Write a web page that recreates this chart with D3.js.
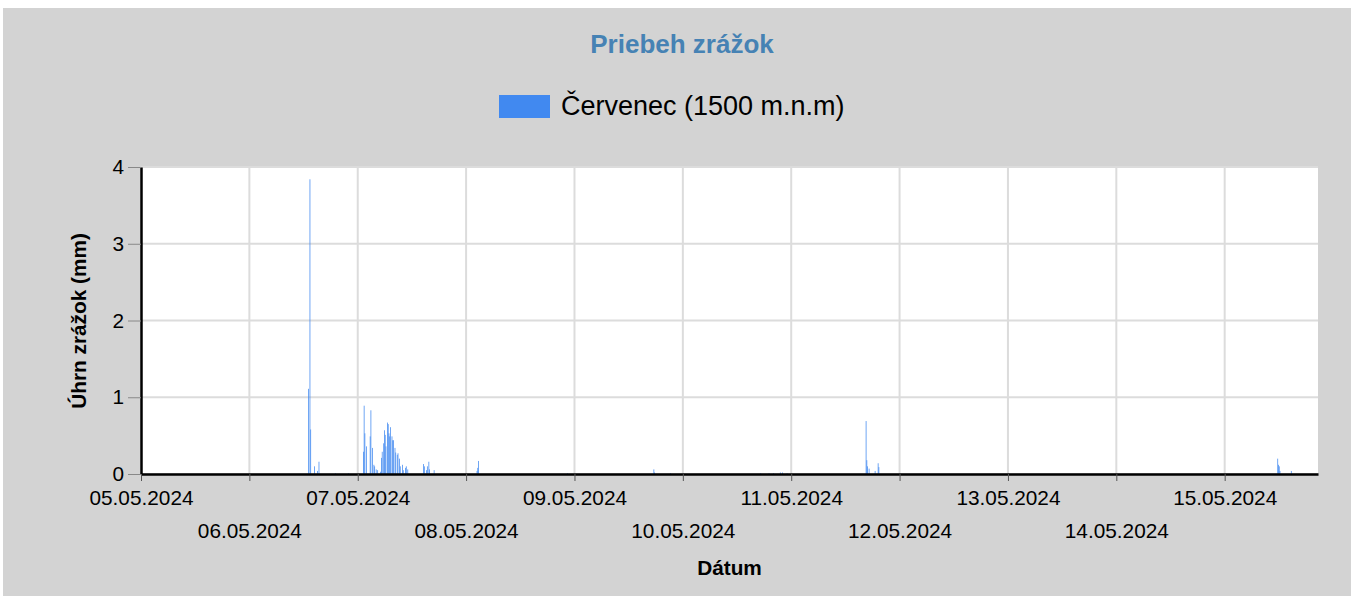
<!DOCTYPE html>
<html>
<head>
<meta charset="utf-8">
<script src="https://cdn.jsdelivr.net/npm/d3@7"></script>
<style>
  html, body { margin: 0; padding: 0; background: #fff; }
  svg { display: block; font-family: "Liberation Sans", Arial, sans-serif; }
</style>
</head>
<body>
<svg id="chart" width="1351" height="596"></svg>
<script>
// ---- data ----
const chartTitle = "Priebeh zrážok";
const seriesName = "Červenec (1500 m.n.m)";
const yTitle = "Úhrn zrážok (mm)";
const xTitle = "Dátum";
const domainStart = "2024-05-05T00:00";
const domainEnd = "2024-05-15T20:40";
const stepMinutes = 10;
const yTicks = [0, 1, 2, 3, 4];
const times = [
  "2024-05-06T13:00","2024-05-06T13:20","2024-05-06T13:30","2024-05-06T14:20","2024-05-06T15:00","2024-05-06T15:20","2024-05-06T19:00","2024-05-06T21:50",
  "2024-05-07T01:10","2024-05-07T01:20","2024-05-07T01:30","2024-05-07T01:50","2024-05-07T02:40","2024-05-07T02:50","2024-05-07T03:10","2024-05-07T03:30",
  "2024-05-07T03:40","2024-05-07T04:00","2024-05-07T04:20","2024-05-07T05:00","2024-05-07T05:10","2024-05-07T05:20","2024-05-07T05:40",
  "2024-05-07T05:50","2024-05-07T06:00","2024-05-07T06:10","2024-05-07T06:30","2024-05-07T06:40","2024-05-07T06:50","2024-05-07T07:00",
  "2024-05-07T07:10","2024-05-07T07:30","2024-05-07T07:40","2024-05-07T07:50","2024-05-07T08:10","2024-05-07T08:20",
  "2024-05-07T08:40","2024-05-07T08:50","2024-05-07T09:10","2024-05-07T09:20","2024-05-07T09:50",
  "2024-05-07T10:00","2024-05-07T10:30","2024-05-07T10:40","2024-05-07T11:00","2024-05-07T14:30","2024-05-07T14:40","2024-05-07T15:10","2024-05-07T15:20",
  "2024-05-07T15:40","2024-05-07T15:50","2024-05-07T16:50",
  "2024-05-08T02:20","2024-05-08T02:30","2024-05-08T02:40","2024-05-08T22:20",
  "2024-05-09T17:30","2024-05-09T17:40","2024-05-09T21:10",
  "2024-05-10T17:10","2024-05-10T19:00","2024-05-10T20:00","2024-05-10T21:30","2024-05-10T22:00","2024-05-10T23:00",
  "2024-05-11T16:30","2024-05-11T16:40","2024-05-11T16:50","2024-05-11T17:10","2024-05-11T18:30","2024-05-11T19:10","2024-05-11T19:20",
  "2024-05-15T11:40","2024-05-15T11:50","2024-05-15T12:00","2024-05-15T12:10","2024-05-15T14:40"
];
const values = [
  1.11,3.84,0.58,0.10,0.04,0.16,0.01,0.01,
  0.29,0.89,0.53,0.36,0.49,0.83,0.34,0.12,
  0.10,0.06,0.05,0.03,0.21,0.29,0.40,
  0.57,0.51,0.36,0.67,0.65,0.53,0.49,
  0.61,0.49,0.44,0.44,0.34,0.28,
  0.25,0.27,0.20,0.10,0.12,
  0.05,0.08,0.10,0.06,0.13,0.10,0.05,0.10,
  0.16,0.06,0.05,
  0.04,0.08,0.17,0.01,
  0.06,0.02,0.01,
  0.01,0.01,0.01,0.02,0.02,0.01,
  0.69,0.18,0.10,0.07,0.04,0.14,0.09,
  0.20,0.12,0.10,0.04,0.04
];

// ---- drawing ----
const svg = d3.select("#chart");
const W = 1351, H = 596;
const plot = { left: 141, right: 1318, top: 167, bottom: 474 };
const parse = d3.timeParse("%Y-%m-%dT%H:%M");
const data = times.map((t, i) => ({ t: parse(t), v: values[i] }));

svg.append("rect").attr("x", 3).attr("y", 8).attr("width", W - 3).attr("height", H - 8).attr("fill", "#d3d3d3");

const x = d3.scaleTime().domain([parse(domainStart), parse(domainEnd)]).range([plot.left, plot.right]);
const y = d3.scaleLinear().domain([0, 4]).range([plot.bottom, plot.top]);

svg.append("rect").attr("x", plot.left).attr("y", plot.top)
  .attr("width", plot.right - plot.left).attr("height", plot.bottom - plot.top).attr("fill", "#fff");

const dayTicks = d3.timeDay.range(parse(domainStart), d3.timeDay.offset(parse(domainEnd), 1)).filter(d => d <= parse(domainEnd));

// grid
const grid = svg.append("g");
grid.selectAll("line.v").data(dayTicks).join("line")
  .attr("x1", d => x(d)).attr("x2", d => x(d)).attr("y1", plot.top).attr("y2", plot.bottom)
  .attr("stroke", "#dcdcdc").attr("stroke-width", 2);
grid.selectAll("line.h").data(yTicks).join("line")
  .attr("x1", plot.left).attr("x2", plot.right).attr("y1", d => y(d)).attr("y2", d => y(d))
  .attr("stroke", "#dcdcdc").attr("stroke-width", 2);

// bars
const bw = x(d3.timeMinute.offset(parse(domainStart), stepMinutes)) - x(parse(domainStart));
svg.append("g").selectAll("rect").data(data).join("rect")
  .attr("x", d => x(d.t)).attr("width", bw)
  .attr("y", d => y(d.v)).attr("height", d => y(0) - y(d.v))
  .attr("fill", "#4189f0");

// y axis
const yAxis = svg.append("g").attr("transform", `translate(${plot.left},0)`)
  .call(d3.axisLeft(y).tickValues(yTicks).tickFormat(d3.format("d")).tickSize(13).tickSizeOuter(0));
yAxis.select(".domain").attr("stroke", "#000").attr("stroke-width", 2.5);
yAxis.selectAll(".tick line").attr("stroke", "#888");
yAxis.selectAll(".tick text").attr("font-size", 20.8).attr("fill", "#000").attr("x", -17).attr("font-family", "Liberation Sans, Arial, sans-serif");

// x axis
const fmt = d3.timeFormat("%d.%m.%Y");
const xAxis = svg.append("g").attr("transform", `translate(0,${plot.bottom})`)
  .call(d3.axisBottom(x).tickValues(dayTicks).tickFormat(fmt).tickSize(7).tickSizeOuter(0));
xAxis.select(".domain").attr("stroke", "#000").attr("stroke-width", 2.5);
xAxis.selectAll(".tick line").attr("stroke", "#555");
xAxis.selectAll(".tick text").attr("font-size", 20.8).attr("fill", "#000")
  .attr("font-family", "Liberation Sans, Arial, sans-serif")
  .attr("dy", null).attr("y", (d, i) => i % 2 === 0 ? 31 : 64);

// titles
svg.append("text").attr("x", 682).attr("y", 53).attr("text-anchor", "middle")
  .attr("font-size", 26).attr("font-weight", "bold").attr("fill", "#4682b4").text(chartTitle);

svg.append("rect").attr("x", 499).attr("y", 95).attr("width", 51).attr("height", 23).attr("fill", "#4189f0");
svg.append("text").attr("x", 561).attr("y", 115).attr("font-size", 27).attr("fill", "#000").text(seriesName);

svg.append("text").attr("transform", `translate(86,321) rotate(-90)`).attr("text-anchor", "middle")
  .attr("font-size", 20.8).attr("font-weight", "bold").attr("fill", "#000").text(yTitle);

svg.append("text").attr("x", (plot.left + plot.right) / 2).attr("y", 575).attr("text-anchor", "middle")
  .attr("font-size", 20.8).attr("font-weight", "bold").attr("fill", "#000").text(xTitle);
</script>
</body>
</html>
